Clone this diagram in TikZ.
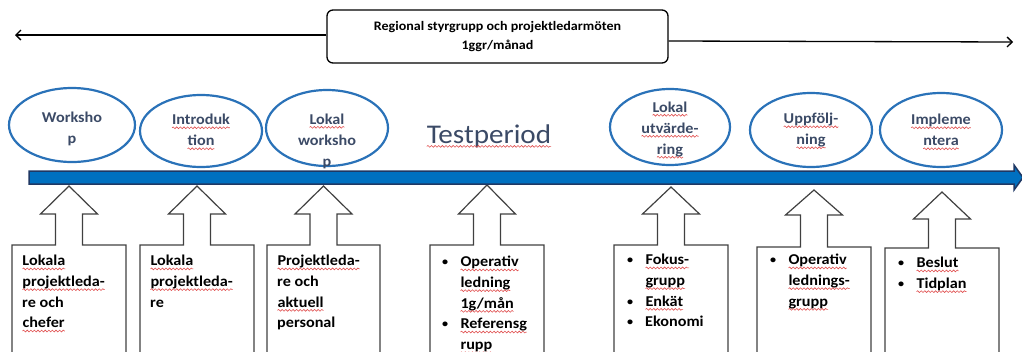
\documentclass[tikz,border=0pt]{standalone}
\usepackage{fontspec}
\setmainfont{Carlito}[FakeStretch=1.08]
\usetikzlibrary{arrows.meta,shapes.geometric,decorations.pathmorphing}
\definecolor{ellblue}{HTML}{2A72B8}
\definecolor{barblue}{HTML}{0070C0}
\definecolor{bardark}{HTML}{1F3864}
\definecolor{elltext}{HTML}{3B4A66}
\definecolor{sqred}{HTML}{E05050}
\definecolor{callgray}{HTML}{404040}
\newcommand\sq[1]{\tikz[baseline=(sqw.base)]{\node[inner sep=0pt,outer sep=0pt,text width={},anchor=base,draw=none,fill=none,shape=rectangle](sqw){#1};\draw[sqred,line width=0.6pt,decorate,decoration={snake,amplitude=0.9pt,segment length=3.6pt}] ([yshift=-3.2pt]sqw.base west)--([yshift=-3.2pt]sqw.base east);}}
\newcommand\bul{\makebox[18pt][l]{\raisebox{1pt}{\scalebox{0.75}{\textbullet}}}}
\newcommand\ind{\hspace*{18pt}}
\newcommand\callout[5]{%
  \pgfmathsetmacro\cxx{(#1+#2)/2}%
  \draw[calloutline] (#1,360) -- (#1,#3) -- ({\cxx-13.5},#3) -- ({\cxx-13.5},#5) -- ({\cxx-28.5},#5) -- (\cxx,#4) -- ({\cxx+28.5},#5) -- ({\cxx+13.5},#5) -- ({\cxx+13.5},#3) -- (#2,#3) -- (#2,360);}
\begin{document}
\begin{tikzpicture}[x=1pt,y=-1pt,
  ell/.style={ellipse,draw=ellblue,line width=2.2pt,inner sep=0pt},
  etext/.style={text=elltext,font=\bfseries\fontsize{15}{21}\selectfont,align=center,inner sep=0pt},
  btext/.style={text=black,font=\bfseries\fontsize{15}{20.7}\selectfont,align=left,anchor=north west,inner sep=0pt},
  calloutline/.style={draw=callgray,line width=1.2pt,line join=miter},
  toparr/.style={draw=black,line width=1.3pt,-{Straight Barb[length=5pt,width=10pt]}}]
\useasboundingbox (0,0) rectangle (1022,351);
\clip (0,0) rectangle (1022,351);
% top box and arrows
\node[draw=black,line width=1.3pt,rounded corners=6pt,minimum width=341pt,minimum height=53pt,align=center,font=\bfseries\fontsize{13}{19}\selectfont,inner sep=0pt] (top) at (497.5,36.5) {Regional styrgrupp och projektledarmöten\\1ggr/månad};
\coordinate (la) at (15,35);
\coordinate (ra) at (1013,42);
\draw[toparr] ([yshift=1.5pt]top.west) -- (la);
\draw[toparr] ([yshift=-4.5pt]top.east) -- (ra);
% callouts
\callout{12}{126}{245}{186}{214}
\callout{140}{254}{245}{186}{214}
\callout{267}{380}{245}{186}{214}
\callout{430}{544}{245}{185}{214}
\callout{614}{728}{245}{187}{214}
\callout{757}{871}{247}{190}{215}
\callout{885}{999}{248}{192}{219}
% blue timeline bar
\draw[fill=barblue,draw=bardark,line width=1.5pt,line join=miter] (29,171) -- (1014,171) -- (1014,165) -- (1023,177.5) -- (1014,190) -- (1014,184) -- (29,184) -- cycle;
% ellipses
\node[ell,minimum width=126pt,minimum height=74pt] (e1) at (72,125) {};
\node[ell,minimum width=122pt,minimum height=72pt] (e2) at (201,131) {};
\node[ell,minimum width=122pt,minimum height=76pt] (e3) at (327,128) {};
\node[ell,minimum width=120pt,minimum height=76pt] (e4) at (670,127) {};
\node[ell,minimum width=122pt,minimum height=74pt] (e5) at (811,130) {};
\node[ell,minimum width=122pt,minimum height=74pt] (e6) at (941,130) {};
\node[etext] (t1) at (72,129) {Worksho\\p};
\node[etext] (t2) at (201,132) {\sq{Introduk}\\\sq{tion}};
\node[etext] (t3) at (327,141) {\sq{Lokal}\\worksho\\p};
\node[etext] (t4) at (670,130) {\sq{Lokal}\\\sq{utvärde-}\\\sq{ring}};
\node[etext] (t5) at (811,131) {\sq{Uppfölj-}\\\sq{ning}};
\node[etext] (t6) at (941,132) {\sq{Impleme}\\\sq{ntera}};
\node[text=elltext,font=\fontsize{27}{32}\selectfont,inner sep=0pt] (tp) at (489,136) {\sq{Testperiod}};
% box texts
\node[btext] (b1) at (22,255) {\sq{Lokala}\\\sq{projektleda-}\\re och\\\sq{chefer}};
\node[btext] (b2) at (150,255) {\sq{Lokala}\\\sq{projektleda-}\\re};
\node[btext] (b3) at (277,255) {\sq{Projektleda-}\\re och\\\sq{aktuell}\\personal};
\node[btext] (b4) at (442,256) {\bul\sq{Operativ}\\\ind\sq{ledning}\\\ind\sq{1g/mån}\\\bul\sq{Referensg}\\\ind\sq{rupp}};
\node[btext] (b5) at (627,254) {\bul\sq{Fokus-}\\\ind\sq{grupp}\\\bul\sq{Enkät}\\\bul Ekonomi};
\node[btext] (b6) at (770,254) {\bul\sq{Operativ}\\\ind\sq{lednings-}\\\ind\sq{grupp}};
\node[btext] (b7) at (898,257) {\bul\sq{Beslut}\\\bul\sq{Tidplan}};
\end{tikzpicture}
\end{document}
